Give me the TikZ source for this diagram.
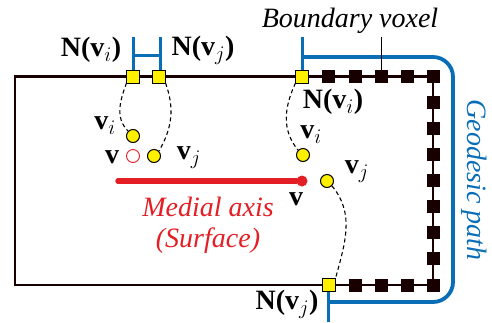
\documentclass[tikz,border=0pt]{standalone}
\usepackage{fontspec}
\setmainfont{Liberation Serif}
\definecolor{myred}{RGB}{227,30,36}
\definecolor{myblue}{RGB}{10,110,182}
\definecolor{myyellow}{RGB}{255,240,0}
\begin{document}
\begin{tikzpicture}[x=1pt,y=-1pt,
  bvox/.style={draw=black,line width=0.9pt,fill=myyellow,minimum size=13pt,inner sep=0pt,outer sep=0pt},
  kvox/.style={fill=black!90!red,minimum size=13pt,inner sep=0pt,outer sep=0pt},
  ypt/.style={circle,draw=black,line width=1pt,fill=myyellow,minimum size=13pt,inner sep=0pt},
  rpt/.style={circle,draw=myred,line width=0.9pt,fill=white,minimum size=13pt,inner sep=0pt},
  lbl/.style={font=\fontsize{28}{30}\selectfont,inner sep=0pt},
  itl/.style={font=\fontsize{28}{31}\selectfont\itshape,inner sep=0pt},
  wall/.style={line width=2.2pt,black!90!red},
  dsh/.style={dashed,line width=1.1pt,dash pattern=on 4pt off 3pt},
  geo/.style={line width=3.8pt,myblue},
  tick/.style={line width=3pt,myblue}
]
\useasboundingbox (0,0) rectangle (492,322);
% walls
\coordinate (c1) at (15,76.5);
\coordinate (c2) at (15,285);
\draw[wall] (433,76.5) -- (c1) -- (c2) -- (433,285);
\draw[wall] (433,76.5) -- (433,285);
% geodesic path (blue)
\draw[geo,rounded corners=20pt] (302,57) -- (453,57) -- (453,302) -- (328,302);
\coordinate (gt) at (302,37);
\coordinate (gb) at (328,322);
\draw[tick] (gt) -- (302,70);
\draw[tick] (gb) -- (328,292);
% H on the left
\coordinate (h1) at (133,37);
\coordinate (h2) at (160,37);
\draw[tick] (h1) -- (133,70);
\draw[tick] (h2) -- (160,70);
\draw[tick] (133,55) -- (160,55);
% boundary voxels
\foreach \x/\n in {328/t1,355/t2,381/t3,407/t4,433/t5}
  \node[kvox] (\n) at (\x,76.5) {};
\foreach \y/\n in {102/r1,128/r2,154/r3,180/r4,206/r5,232/r6,258/r7,285/r8}
  \node[kvox] (\n) at (433,\y) {};
\foreach \x/\n in {355/b1,381/b2,407/b3}
  \node[kvox] (\n) at (\x,285) {};
\node[bvox] (sqa) at (133,76.5) {};
\node[bvox] (sqb) at (159,76.5) {};
\node[bvox] (sqc) at (302,76.5) {};
\node[bvox] (sqd) at (329,285) {};
% boundary voxel label
\node[itl] (bvl) at (350,21) {Boundary voxel};
\coordinate (bvt) at (381,37);
\draw[line width=1pt,black] (bvt) -- (t3);
% medial axis
\node[circle,fill=myred,minimum size=11pt,inner sep=0pt] (rv) at (302,181) {};
\coordinate (ma) at (118,181);
\draw[line width=5.5pt,myred,line cap=round] (ma) -- (rv);
% points
\node[ypt] (vi1) at (133,136) {};
\node[rpt] (v1) at (133,156) {};
\node[ypt] (vj1) at (154,156) {};
\node[ypt] (vi2) at (303,155) {};
\node[ypt] (vj2) at (327,181) {};
% dashed links
\draw[dsh] (sqa.south west) to[out=250,in=135] (vi1.north west);
\draw[dsh] (sqb.south east) to[out=-70,in=60] (vj1.north east);
\draw[dsh] (sqc.south west) to[out=245,in=130] (vi2.north west);
\draw[dsh] (vj2.south east) to[out=-50,in=75] (sqd.north east);
% labels
\node[lbl] (nvi1) at (91,50) {\textbf{N(v}$_{i}$\textbf{)}};
\node[lbl] (nvj1) at (203,50) {\textbf{N(v}$_{j}$\textbf{)}};
\node[lbl] (lvi1) at (105,126) {\textbf{v}$_{i}$};
\node[lbl] (lv1) at (112,157) {\textbf{v}};
\node[lbl] (lvj1) at (189,158) {\textbf{v}$_{j}$};
\node[lbl] (nvi2) at (333,102) {\textbf{N(v}$_{i}$\textbf{)}};
\node[lbl] (lvi2) at (311,135) {\textbf{v}$_{i}$};
\node[lbl] (lvj2) at (357,172) {\textbf{v}$_{j}$};
\node[lbl] (lv2) at (296,199) {\textbf{v}};
\node[lbl] (nvj2) at (287,304) {\textbf{N(v}$_{j}$\textbf{)}};
\node[itl,text=myred,align=center] (mal) at (208,225) {Medial axis\\(Surface)};
\node[itl,text=myblue,rotate=-90] (gpl) at (474,180) {Geodesic path};
\end{tikzpicture}
\end{document}
